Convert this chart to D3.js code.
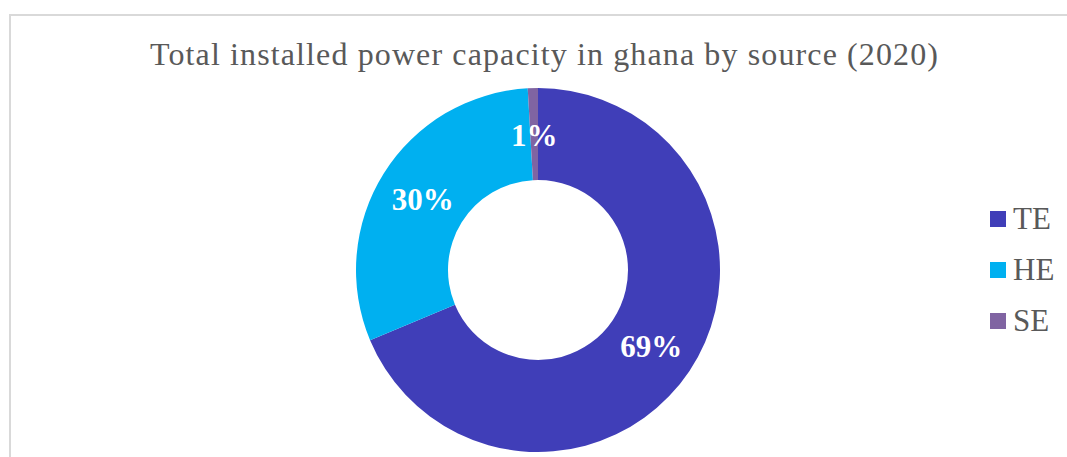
<!DOCTYPE html>
<html lang="en">
<head>
  <meta charset="UTF-8">
  <title>donut</title>
  <script src="https://d3js.org/d3.v7.min.js" charset="utf-8"></script>
  <style>
    body { margin: 0; background: #fff; }
  </style>
</head>
<body>
</body>
<script>
  // data
  let sources = ['TE', 'HE', 'SE']
  let shares = [68.7, 30.4, 0.9]
  let colors = ['#403EB8', '#00B0F0', '#8064A2']
  let title = 'Total installed power capacity in ghana by source (2020)'

  var width = 1067, height = 457
  var svg = d3.select('body').append('svg').attr('width', width).attr('height', height)

  // chart border
  svg.append('rect')
    .attr('x', 10).attr('y', 15).attr('width', 1080).attr('height', 470)
    .attr('fill', '#fff').attr('stroke', '#d9d9d9').attr('stroke-width', 2)

  svg.append('text')
    .attr('x', 544).attr('y', 65)
    .attr('text-anchor', 'middle')
    .attr('font-family', 'Liberation Serif, Times New Roman, serif')
    .attr('font-size', 32)
    .attr('textLength', 788)
    .attr('lengthAdjust', 'spacing')
    .attr('fill', '#595959')
    .text(title)

  var data = sources.map((s, i) => ({ name: s, value: shares[i], color: colors[i] }))
  var pie = d3.pie().value(d => d.value).sort(null)
  var arcs = pie(data)
  var arc = d3.arc().innerRadius(90).outerRadius(182)
  var labelArc = d3.arc().innerRadius(136).outerRadius(136)

  var g = svg.append('g').attr('transform', 'translate(538, 270)')
  g.selectAll('path').data(arcs).enter().append('path')
    .attr('d', arc)
    .attr('fill', d => d.data.color)

  var total = d3.sum(shares)
  g.selectAll('text').data(arcs).enter().append('text')
    .attr('transform', d => 'translate(' + labelArc.centroid(d) + ')')
    .attr('dy', '0.38em')
    .attr('text-anchor', 'middle')
    .attr('font-family', 'Liberation Serif, Times New Roman, serif')
    .attr('font-weight', 'bold')
    .attr('font-size', 31)
    .attr('fill', '#fff')
    .text(d => Math.round(d.data.value / total * 100) + '%')

  // legend
  var legend = svg.append('g').attr('transform', 'translate(990, 211)')
  var item = legend.selectAll('g').data(data).enter().append('g')
    .attr('transform', (d, i) => 'translate(0,' + i * 51 + ')')
  item.append('rect').attr('width', 16).attr('height', 16).attr('fill', d => d.color)
  item.append('text')
    .attr('x', 23).attr('y', 18)
    .attr('font-family', 'Liberation Serif, Times New Roman, serif')
    .attr('font-size', 31)
    .attr('fill', '#595959')
    .text(d => d.name)
</script>
</html>
